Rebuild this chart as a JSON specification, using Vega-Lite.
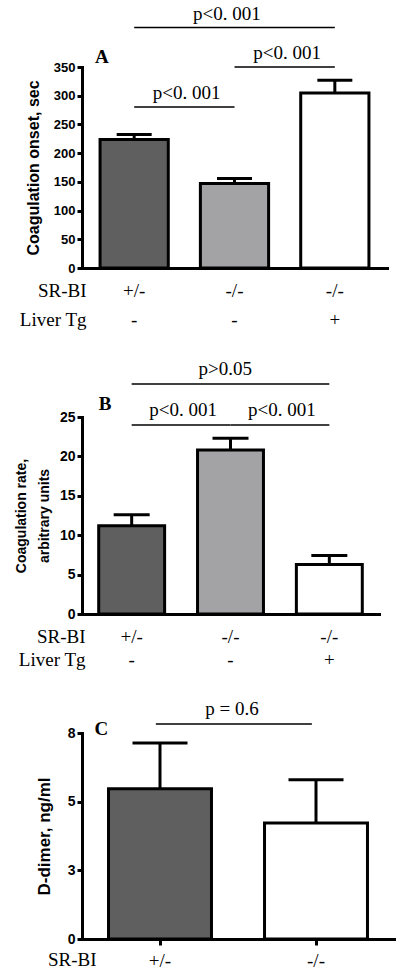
{
  "$schema": "https://vega.github.io/schema/vega-lite/v6.json",
  "background": "white",
  "padding": {"left": 14, "top": 4, "right": 5, "bottom": 5},
  "config": {
    "view": {"stroke": null},
    "axis": {"grid": false, "domainColor": "black", "domainWidth": 3, "domainCap": "square", "tickColor": "black", "tickWidth": 3, "labelColor": "black", "titleColor": "black", "labelOverlap": false},
    "axisY": {"labelFont": "Liberation Sans", "labelFontWeight": "bold", "labelFontSize": 13, "tickSize": 5, "labelPadding": 2, "titleFont": "Liberation Sans", "titleFontWeight": "bold", "titlePadding": 12, "labelOverlap": false},
    "axisX": {"labelFont": "Liberation Serif", "labelFontSize": 19, "labelAngle": 0, "labelBaseline": "top", "titleFont": "Liberation Serif", "titleFontSize": 19, "titleFontWeight": "normal", "titleAlign": "right", "titleBaseline": "top"}
  },
  "datasets": {
    "onset": [
      {"group": "+/-|-", "mean": 223.6, "upper": 232.3},
      {"group": "-/-|-", "mean": 147, "upper": 155.7},
      {"group": "-/-|+", "mean": 304.7, "upper": 326.8}
    ],
    "onsetSig": [
      {"from": "+/-|-", "to": "-/-|+", "level": 418.6, "label": "p<0. 001", "span": "wide"},
      {"from": "-/-|-", "to": "-/-|+", "level": 350, "label": "p<0. 001", "span": "pair"},
      {"from": "+/-|-", "to": "-/-|-", "level": 280.3, "label": "p<0. 001", "span": "pair"}
    ],
    "rate": [
      {"group": "+/-|-", "mean": 11.2, "upper": 12.6},
      {"group": "-/-|-", "mean": 20.8, "upper": 22.3},
      {"group": "-/-|+", "mean": 6.27, "upper": 7.41}
    ],
    "rateSig": [
      {"from": "+/-|-", "to": "-/-|+", "level": 29.2, "label": "p>0.05", "span": "wide"},
      {"from": "+/-|-", "to": "-/-|-", "level": 24, "label": "p<0. 001", "span": "pair"},
      {"from": "-/-|-", "to": "-/-|+", "level": 24, "label": "p<0. 001", "span": "pair"}
    ],
    "dimer": [
      {"group": "+/-", "mean": 5.47, "upper": 7.14},
      {"group": "-/-", "mean": 4.22, "upper": 5.8}
    ],
    "dimerSig": [
      {"from": "+/-", "to": "-/-", "level": 7.83, "label": "p = 0.6"}
    ]
  },
  "resolve": {"scale": {"color": "independent", "x": "independent", "y": "independent"}},
  "spacing": 30,
  "vconcat": [
    {
      "width": 305,
      "height": 201,
      "layer": [
        {
          "data": {"name": "onset"},
          "mark": {"type": "bar", "stroke": "black", "strokeWidth": 3},
          "encoding": {
            "x": {"field": "group", "type": "nominal", "scale": {"domain": ["+/-|-", "-/-|-", "-/-|+"], "paddingInner": 0.32, "paddingOuter": 0.18},
              "axis": {"title": ["SR-BI", "Liver Tg"], "labelExpr": "split(datum.label, '|')", "ticks": false, "labelPadding": 13, "labelLineHeight": 29, "titleLineHeight": 29, "titleX": 4, "titleY": 13, "titleAlign": "right", "titleAnchor": "start"}},
            "y": {"field": "mean", "type": "quantitative", "scale": {"domain": [0, 350], "nice": false},
              "axis": {"values": [0, 50, 100, 150, 200, 250, 300, 350], "tickCount": 8, "labelOverlap": false, "title": "Coagulation onset, sec", "titleFontSize": 16, "titlePadding": 12}},
            "color": {"field": "group", "type": "nominal", "scale": {"domain": ["+/-|-", "-/-|-", "-/-|+"], "range": ["#5f5f5f", "#a3a3a6", "#ffffff"]}, "legend": null}
          }
        },
        {
          "data": {"name": "onset"},
          "mark": {"type": "rule", "color": "black", "strokeWidth": 3},
          "encoding": {
            "x": {"field": "group", "type": "nominal"},
            "y": {"field": "mean", "type": "quantitative"},
            "y2": {"field": "upper"}
          }
        },
        {
          "data": {"name": "onset"},
          "mark": {"type": "tick", "color": "black", "size": 35, "thickness": 3, "opacity": 1},
          "encoding": {
            "x": {"field": "group", "type": "nominal"},
            "y": {"field": "upper", "type": "quantitative"}
          }
        },
        {
          "data": {"name": "onsetSig"},
          "mark": {"type": "rule", "color": "black", "strokeWidth": 1.5, "clip": false},
          "encoding": {
            "x": {"field": "from", "type": "nominal", "bandPosition": 0.5},
            "x2": {"field": "to", "bandPosition": 0.5},
            "y": {"field": "level", "type": "quantitative"}
          }
        },
        {
          "data": {"name": "onsetSig"},
          "transform": [{"filter": "datum.span == 'pair'"}],
          "mark": {"type": "text", "font": "Liberation Serif", "fontSize": 19, "align": "center", "baseline": "alphabetic", "dy": -8, "color": "black"},
          "encoding": {
            "x": {"field": "from", "type": "nominal", "bandPosition": 1.27},
            "y": {"field": "level", "type": "quantitative"},
            "text": {"field": "label"}
          }
        },
        {
          "data": {"name": "onsetSig"},
          "transform": [{"filter": "datum.span == 'wide'"}],
          "mark": {"type": "text", "font": "Liberation Serif", "fontSize": 19, "align": "center", "baseline": "alphabetic", "dy": -8, "color": "black"},
          "encoding": {
            "x": {"field": "from", "type": "nominal", "bandPosition": 1.86},
            "y": {"field": "level", "type": "quantitative"},
            "text": {"field": "label"}
          }
        },
        {
          "data": {"values": [{"panel": "A", "group": "+/-|-", "pos": 357}]},
          "mark": {"type": "text", "font": "Liberation Serif", "fontWeight": "bold", "fontSize": 19, "align": "left", "baseline": "alphabetic", "dx": -5, "color": "black"},
          "encoding": {
            "x": {"field": "group", "type": "nominal", "bandPosition": 0},
            "y": {"field": "pos", "type": "quantitative"},
            "text": {"field": "panel"}
          }
        }
      ]
    },
    {
      "width": 297,
      "height": 197,
      "layer": [
        {
          "data": {"name": "rate"},
          "mark": {"type": "bar", "stroke": "black", "strokeWidth": 3},
          "encoding": {
            "x": {"field": "group", "type": "nominal", "scale": {"domain": ["+/-|-", "-/-|-", "-/-|+"], "paddingInner": 0.333, "paddingOuter": 0.169},
              "axis": {"title": ["SR-BI", "Liver Tg"], "labelExpr": "split(datum.label, '|')", "ticks": false, "labelPadding": 13, "labelLineHeight": 23, "titleLineHeight": 23, "titleX": 3, "titleY": 13, "titleAlign": "right", "titleAnchor": "start"}},
            "y": {"field": "mean", "type": "quantitative", "scale": {"domain": [0, 25], "nice": false},
              "axis": {"values": [0, 5, 10, 15, 20, 25], "tickCount": 6, "labelOverlap": false, "title": ["Coagulation rate,", "arbitrary units"], "titleFontSize": 14, "titleLineHeight": 23, "labelFontSize": 14, "titlePadding": 8}},
            "color": {"field": "group", "type": "nominal", "scale": {"domain": ["+/-|-", "-/-|-", "-/-|+"], "range": ["#5f5f5f", "#a3a3a6", "#ffffff"]}, "legend": null}
          }
        },
        {
          "data": {"name": "rate"},
          "mark": {"type": "rule", "color": "black", "strokeWidth": 3},
          "encoding": {
            "x": {"field": "group", "type": "nominal"},
            "y": {"field": "mean", "type": "quantitative"},
            "y2": {"field": "upper"}
          }
        },
        {
          "data": {"name": "rate"},
          "mark": {"type": "tick", "color": "black", "size": 36, "thickness": 3, "opacity": 1},
          "encoding": {
            "x": {"field": "group", "type": "nominal"},
            "y": {"field": "upper", "type": "quantitative"}
          }
        },
        {
          "data": {"name": "rateSig"},
          "mark": {"type": "rule", "color": "black", "strokeWidth": 1.5, "clip": false},
          "encoding": {
            "x": {"field": "from", "type": "nominal", "bandPosition": 0.5},
            "x2": {"field": "to", "bandPosition": 0.5},
            "y": {"field": "level", "type": "quantitative"}
          }
        },
        {
          "data": {"name": "rateSig"},
          "transform": [{"filter": "datum.span == 'pair'"}],
          "mark": {"type": "text", "font": "Liberation Serif", "fontSize": 19, "align": "center", "baseline": "alphabetic", "dy": -9, "color": "black"},
          "encoding": {
            "x": {"field": "from", "type": "nominal", "bandPosition": 1.28},
            "y": {"field": "level", "type": "quantitative"},
            "text": {"field": "label"}
          }
        },
        {
          "data": {"name": "rateSig"},
          "transform": [{"filter": "datum.span == 'wide'"}],
          "mark": {"type": "text", "font": "Liberation Serif", "fontSize": 19, "align": "center", "baseline": "alphabetic", "dy": -9, "color": "black"},
          "encoding": {
            "x": {"field": "from", "type": "nominal", "bandPosition": 1.92},
            "y": {"field": "level", "type": "quantitative"},
            "text": {"field": "label"}
          }
        },
        {
          "data": {"values": [{"panel": "B", "group": "+/-|-", "pos": 25.9}]},
          "mark": {"type": "text", "font": "Liberation Serif", "fontWeight": "bold", "fontSize": 19, "align": "left", "baseline": "alphabetic", "dx": 0, "color": "black"},
          "encoding": {
            "x": {"field": "group", "type": "nominal", "bandPosition": 0},
            "y": {"field": "pos", "type": "quantitative"},
            "text": {"field": "panel"}
          }
        }
      ]
    },
    {
      "width": 312,
      "height": 206,
      "layer": [
        {
          "data": {"name": "dimer"},
          "mark": {"type": "bar", "stroke": "black", "strokeWidth": 3},
          "encoding": {
            "x": {"field": "group", "type": "nominal", "scale": {"domain": ["+/-", "-/-"], "paddingInner": 0.34, "paddingOuter": 0.17},
              "axis": {"title": "SR-BI", "ticks": true, "tickSize": 6, "labelPadding": 6, "titleX": 14, "titleY": 11, "titleAlign": "right", "titleAnchor": "start"}},
            "y": {"field": "mean", "type": "quantitative", "scale": {"domain": [0, 7.5], "nice": false},
              "axis": {"values": [0, 2.5, 5, 7.5], "format": ".0f", "labelOverlap": false, "title": "D-dimer, ng/ml", "titleFontSize": 17, "labelFontSize": 14, "titlePadding": 14}},
            "color": {"field": "group", "type": "nominal", "scale": {"domain": ["+/-", "-/-"], "range": ["#5f5f5f", "#ffffff"]}, "legend": null}
          }
        },
        {
          "data": {"name": "dimer"},
          "mark": {"type": "rule", "color": "black", "strokeWidth": 3},
          "encoding": {
            "x": {"field": "group", "type": "nominal"},
            "y": {"field": "mean", "type": "quantitative"},
            "y2": {"field": "upper"}
          }
        },
        {
          "data": {"name": "dimer"},
          "mark": {"type": "tick", "color": "black", "size": 55, "thickness": 3, "opacity": 1},
          "encoding": {
            "x": {"field": "group", "type": "nominal"},
            "y": {"field": "upper", "type": "quantitative"}
          }
        },
        {
          "data": {"name": "dimerSig"},
          "mark": {"type": "rule", "color": "black", "strokeWidth": 1.5, "clip": false},
          "encoding": {
            "x": {"field": "from", "type": "nominal", "bandPosition": 0.46},
            "x2": {"field": "to", "bandPosition": 0.46},
            "y": {"field": "level", "type": "quantitative"}
          }
        },
        {
          "data": {"name": "dimerSig"},
          "mark": {"type": "text", "font": "Liberation Serif", "fontSize": 19, "align": "center", "baseline": "alphabetic", "dy": -9, "color": "black"},
          "encoding": {
            "x": {"field": "from", "type": "nominal", "bandPosition": 1.2},
            "y": {"field": "level", "type": "quantitative"},
            "text": {"field": "label"}
          }
        },
        {
          "data": {"values": [{"panel": "C", "group": "+/-", "pos": 7.44}]},
          "mark": {"type": "text", "font": "Liberation Serif", "fontWeight": "bold", "fontSize": 19, "align": "left", "baseline": "alphabetic", "dx": -14, "color": "black"},
          "encoding": {
            "x": {"field": "group", "type": "nominal", "bandPosition": 0},
            "y": {"field": "pos", "type": "quantitative"},
            "text": {"field": "panel"}
          }
        }
      ]
    }
  ]
}
